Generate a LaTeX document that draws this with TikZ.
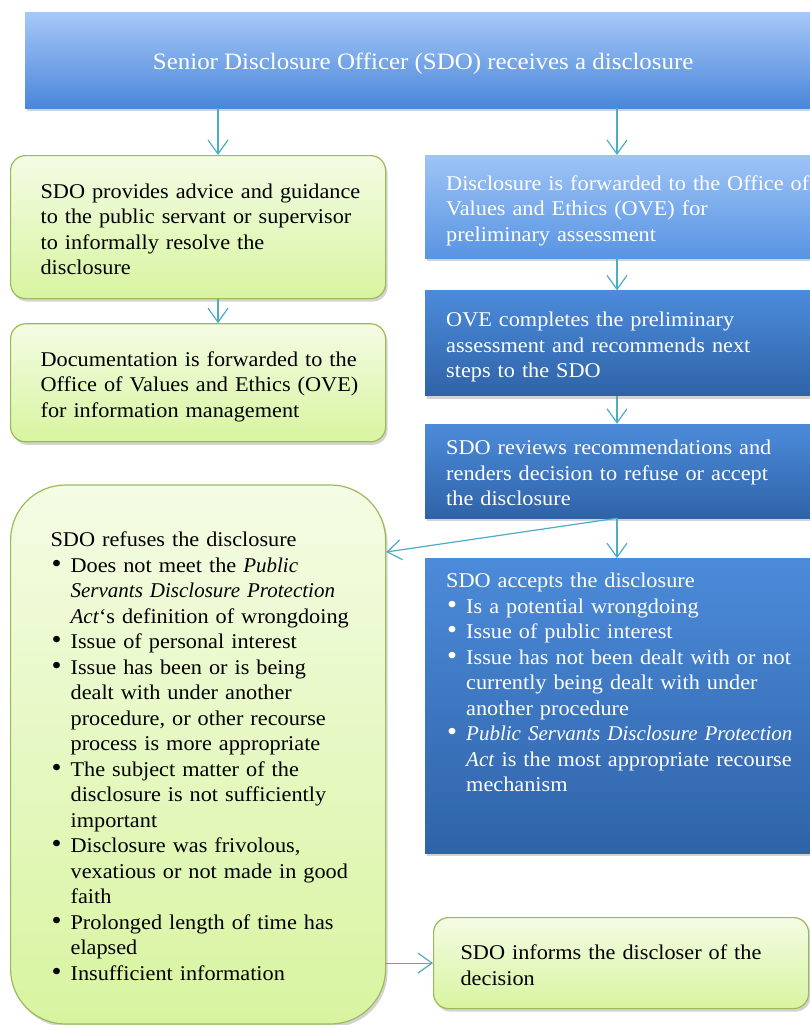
\documentclass[tikz,border=0pt]{standalone}
\usepackage{fontspec}
\setmainfont{Liberation Serif}[UprightFeatures={FakeStretch=1.06}]
\usetikzlibrary{arrows.meta, positioning, shadows}

\definecolor{topbluetop}{RGB}{166,200,248}
\definecolor{topbluebot}{RGB}{74,134,218}
\definecolor{lightbluetop}{RGB}{158,196,247}
\definecolor{lightbluebot}{RGB}{88,148,226}
\definecolor{darkbluetop}{RGB}{76,139,218}
\definecolor{darkbluebot}{RGB}{47,99,168}
\definecolor{greentop}{RGB}{244,252,228}
\definecolor{greenbot}{RGB}{216,244,160}
\definecolor{greenline}{RGB}{155,187,89}
\definecolor{arrowcol}{RGB}{75,172,198}

% one line per row, no automatic breaks
\newcommand{\boxlines}[1]{\begin{tabular}{@{}l@{}}\rule{0pt}{26pt}#1\end{tabular}}
\newcommand{\bullist}[2]{\begin{tabular}{@{\hspace{1pt}}l@{\hspace{9pt}}l@{}}%
  \multicolumn{2}{@{}l@{}}{\rule{0pt}{26pt}#1}\\ #2\end{tabular}}
\newcommand{\bul}{{\fontsize{27}{25.5}\selectfont\textbullet}}

\begin{document}
\begin{tikzpicture}[x=1pt,y=-1pt,>={Straight Barb[length=14pt,width=20pt]},
  shadowed/.style={drop shadow={shadow xshift=2pt,shadow yshift=-3pt,opacity=0.35}},
  blue box/.style={rectangle,text=white,shadowed,font=\fontsize{21}{25.5}\selectfont},
  green box/.style={rectangle,draw=greenline,line width=1.2pt,top color=greentop,
    bottom color=greenbot,rounded corners=15pt,shadowed,font=\fontsize{21}{25.5}\selectfont},
  link/.style={->,draw=arrowcol,line width=1.2pt}]
  \useasboundingbox (0,0) rectangle (810,1025);
  \coordinate (lx) at (218,0);
  \coordinate (rx) at (617,0);
  \coordinate (ry) at (0,552);

  \node[blue box, top color=topbluetop, bottom color=topbluebot, anchor=north west,
    minimum width=796pt, minimum height=96pt, font=\fontsize{23.5}{26}\selectfont] (1) at (25,12)
    {\rule{0pt}{23pt}Senior Disclosure Officer (SDO) receives a disclosure};

  % left column
  \node[green box, anchor=north west, align=left, text width=315pt, inner xsep=30pt,
    minimum height=143pt] (2) at (10,155)
    {\boxlines{SDO provides advice and guidance\\ to the public servant or supervisor\\
      to informally resolve the\\ disclosure}};
  \node[green box, align=left, text width=315pt, inner xsep=30pt, minimum height=118pt,
    below=24pt of 2] (3)
    {\boxlines{Documentation is forwarded to the\\ Office of Values and Ethics (OVE)\\
      for information management}};
  \node[green box, rounded corners=55pt, align=left, text width=295pt, inner xsep=40pt,
    minimum height=539pt, below=42pt of 3] (4)
    {\bullist{SDO refuses the disclosure}{%
      \bul & Does not meet the \textit{Public}\\
      & \textit{Servants Disclosure Protection}\\
      & \textit{Act}‘s definition of wrongdoing\\
      \bul & Issue of personal interest\\
      \bul & Issue has been or is being\\
      & dealt with under another\\
      & procedure, or other recourse\\
      & process is more appropriate\\
      \bul & The subject matter of the\\
      & disclosure is not sufficiently\\
      & important\\
      \bul & Disclosure was frivolous,\\
      & vexatious or not made in good\\
      & faith\\
      \bul & Prolonged length of time has\\
      & elapsed\\
      \bul & Insufficient information\rule[-4pt]{0pt}{0pt}}};

  % right column
  \node[blue box, top color=lightbluetop, bottom color=lightbluebot, anchor=north west,
    align=left, text width=349pt, inner xsep=21pt, minimum height=103pt] (5) at (425,155)
    {\boxlines{Disclosure is forwarded to the Office of\\ Values and Ethics (OVE) for\\
      preliminary assessment}};
  \node[blue box, top color=darkbluetop, bottom color=darkbluebot, align=left,
    text width=349pt, inner xsep=21pt, minimum height=105pt, below=32pt of 5] (6)
    {\boxlines{OVE completes the preliminary\\ assessment and recommends next\\
      steps to the SDO}};
  \node[blue box, top color=darkbluetop, bottom color=darkbluebot, align=left,
    text width=349pt, inner xsep=21pt, minimum height=94pt, below=28pt of 6] (7)
    {\boxlines{SDO reviews recommendations and\\ renders decision to refuse or accept\\
      the disclosure}};
  \node[blue box, top color=darkbluetop, bottom color=darkbluebot, align=left,
    text width=349pt, inner xsep=21pt, minimum height=293pt, below=40pt of 7] (8)
    {\bullist{SDO accepts the disclosure}{%
      \bul & Is a potential wrongdoing\\
      \bul & Issue of public interest\\
      \bul & Issue has not been dealt with or not\\
      & currently being dealt with under\\
      & another procedure\\
      \bul & \textit{Public Servants Disclosure Protection}\\
      & \textit{Act} is the most appropriate recourse\\
      & mechanism\rule[-58pt]{0pt}{0pt}}};

  \node[green box, anchor=north west, align=left, text width=321pt, inner xsep=27pt,
    minimum height=91pt] (9) at (433,917)
    {\boxlines{SDO informs the discloser of the\\ decision}};

  \path[every edge/.style={link}]
    (1.south -| lx) edge (2.north -| lx)
    (1.south -| rx) edge (5.north -| rx)
    (2.south -| lx) edge (3.north -| lx)
    (5.south -| rx) edge (6.north -| rx)
    (6.south -| rx) edge (7.north -| rx)
    (7.south -| rx) edge (8.north -| rx)
    (7.south -| rx) edge (4.east |- ry)
    (4.east |- 9.west) edge (9.west);
\end{tikzpicture}
\end{document}
